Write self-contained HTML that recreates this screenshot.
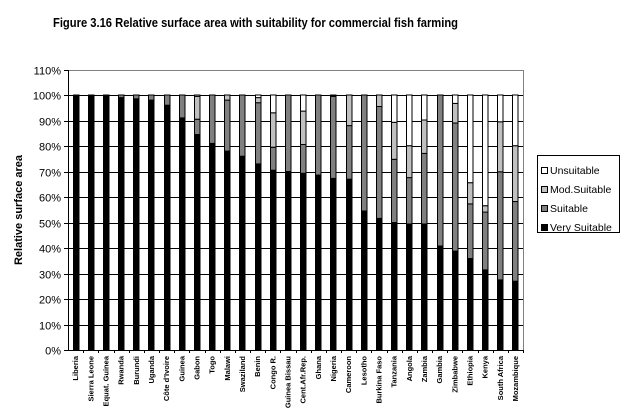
<!DOCTYPE html>
<html><head><meta charset="utf-8"><style>
html,body{margin:0;padding:0;background:#fff;width:623px;height:418px;overflow:hidden}
svg text{font-family:"Liberation Sans",Arial,sans-serif}
</style></head><body>
<svg id="s" width="623" height="418" xmlns="http://www.w3.org/2000/svg">
<text x="53" y="27" font-size="13" font-weight="bold" textLength="405" lengthAdjust="spacingAndGlyphs">Figure 3.16 Relative surface area with suitability for commercial fish farming</text>
<text transform="translate(22,210) rotate(-90)" font-size="11" font-weight="bold" text-anchor="middle">Relative surface area</text>
<g id="g"></g>
<rect x="537.5" y="155.5" width="82" height="77" fill="#fff" stroke="#000"/>
<rect x="541.5" y="167.5" width="6" height="6" fill="#fff" stroke="#000"/>
<text x="550" y="174" font-size="10.5">Unsuitable</text>
<rect x="541.5" y="186.5" width="6" height="6" fill="#c0c0c0" stroke="#000"/>
<text x="550" y="193" font-size="10.5">Mod.Suitable</text>
<rect x="541.5" y="205.5" width="6" height="6" fill="#808080" stroke="#000"/>
<text x="550" y="212" font-size="10.5">Suitable</text>
<rect x="541.5" y="224.5" width="6" height="6" fill="#000" stroke="#000"/>
<text x="550" y="231" font-size="10.5">Very Suitable</text>
</svg>
<script>
var d=[["Liberia",100,0,0],["Sierra Leone",100,0,0],["Equat. Guinea",100,0,0],["Rwanda",99,1,0],["Burundi",98.5,1.5,0],["Uganda",98,2,0],["Côte d'Ivoire",96,4,0],["Guinea",91,9,0],["Gabon",84.5,6,9],["Togo",81,19,0],["Malawi",78,20,2],["Swaziland",76,24,0],["Benin",73,24,2],["Congo R.",70.5,9,13.5],["Guinea Bissau",70,30,0],["Cent.Afr.Rep.",69.3,11.3,13.1],["Ghana",68.6,31.4,0],["Nigeria",67.3,32.2,0.3],["Cameroon",67,21,12],["Lesotho",54.5,45.5,0],["Burkina Faso",51.6,43.9,4.5],["Tanzania",50,24.8,14.5],["Angola",49.4,18.2,12.5],["Zambia",49.4,27.7,13.1],["Gambia",40.8,59.2,0],["Zimbabwe",38.8,50.2,7.7],["Ethiopia",35.9,21.4,8.3],["Kenya",31.4,22.7,2.5],["South Africa",27.5,42.4,19.6],["Mozambique",27,31.2,21.9]];
var L=68,R=523,B=350,U=25.5,h='';
function Y(p){return B-p*U/10;}
for(var i=0;i<=11;i++){var y=Math.round(Y(i*10))+0.5;
 h+='<line x1="'+(i==11?L:L)+'" y1="'+y+'" x2="'+R+'" y2="'+y+'" stroke="'+(i==11?'#808080':'#000')+'"/>';
 h+='<line x1="64" y1="'+y+'" x2="'+L+'" y2="'+y+'" stroke="#000"/>';
 h+='<text x="61" y="'+(y+4)+'" font-size="11" text-anchor="end">'+(i*10)+'%</text>';}
h+='<line x1="'+(R+0.5)+'" y1="70" x2="'+(R+0.5)+'" y2="350" stroke="#808080"/>';
var w=(R-L)/30;
for(var i=0;i<30;i++){var c=L+w*(i+0.5),x=Math.round(c-3)+0.5,e=d[i];
 var u=100-e[1]-e[2]-e[3];var segs=[[e[1],'#000'],[e[2],'#808080'],[e[3],'#c0c0c0'],[u,'#fff']];var acc=0;
 for(var k=0;k<4;k++){var v=segs[k][0];if(v<=0.05){continue;}
  var y1=Y(acc+v),y0=Y(acc);h+='<rect x="'+x+'" y="'+y1.toFixed(1)+'" width="5.5" height="'+(y0-y1).toFixed(1)+'" fill="'+segs[k][1]+'" stroke="#000" stroke-width="1"/>';acc+=v;}
 h+='<text transform="translate('+(c+2.5).toFixed(1)+',356) rotate(-90)" font-size="7.5" font-weight="bold" text-anchor="end">'+e[0].replace("'","&#39;")+'</text>';
 h+='<line x1="'+(Math.round(L+w*(i+1))+0.5)+'" y1="350" x2="'+(Math.round(L+w*(i+1))+0.5)+'" y2="353" stroke="#000"/>';}
h+='<line x1="'+(L+0.5)+'" y1="70" x2="'+(L+0.5)+'" y2="350" stroke="#000"/>';
h+='<line x1="'+L+'" y1="350.5" x2="'+R+'" y2="350.5" stroke="#000"/>';
document.getElementById('g').innerHTML=h;
</script>
</body></html>
